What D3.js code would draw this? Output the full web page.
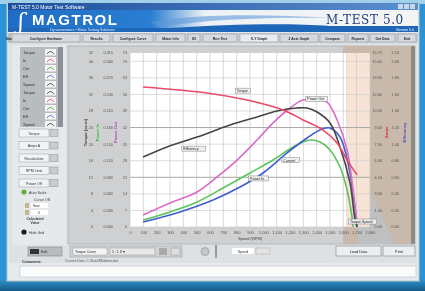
<!DOCTYPE html>
<html>
<head>
<meta charset="utf-8">
<script src="https://cdn.jsdelivr.net/npm/d3@7"></script>
<style>
  html, body { margin: 0; padding: 0; background: #2a8fd0; }
  svg { display: block; filter: blur(0.45px); font-family: "Liberation Sans", Arial, sans-serif; }
</style>
</head>
<body>
<svg width="425" height="291"></svg>
<script>
// speed axis ticks (rpm)
const speedTicks = [0, 100, 200, 300, 400, 500, 600, 700, 800, 900, 1000, 1100, 1200, 1300, 1400, 1500, 1600, 1700, 1800];
const yTicks = [0, 10, 20, 30, 40, 50, 60, 70, 80, 90, 100, 105];
const leftLabels1 = ["0", "4", "8", "12", "16", "20", "24", "28", "32", "36", "40", "42"];
const leftLabels2 = ["0.000", "0.030", "0.060", "0.090", "0.120", "0.150", "0.180", "0.210", "0.240", "0.270", "0.300", "0.315"];
const leftLabels3 = ["0", "7", "14", "21", "28", "35", "42", "49", "56", "63", "70", "74"];
const rightLabels1 = ["0.00", "1.50", "3.00", "4.50", "6.00", "7.50", "9.00", "10.50", "12.00", "13.50", "15.00", "15.75"];
const rightLabels2 = ["0.00", "0.20", "0.40", "0.60", "0.80", "1.00", "1.20", "1.40", "1.60", "1.80", "2.00", "2.10"];

// curves: [speed, value]
const torque = [[98, 84.5], [578, 80.9], [878, 76.6], [1148, 70.6], [1298, 64.6], [1448, 58.5], [1553, 50.7], [1628, 40.4], [1703, 31.4]];
const efficiency = [[98, 42.2], [278, 48.3], [503, 54.3], [750, 61.5], [953, 66.4], [1103, 70.0], [1253, 71.8], [1328, 71.8], [1403, 69.4], [1500, 62.8], [1575, 48.3], [1650, 26.6], [1688, 4.2], [1703, 0]];
const powerOut = [[98, 7.2], [300, 14.5], [503, 21.1], [653, 30.2], [803, 40.4], [953, 52.5], [1073, 62.8], [1200, 71.8], [1298, 76.6], [1403, 76.6], [1478, 75.4], [1553, 64.6], [1628, 46.5], [1673, 22.3], [1703, 2.4]];
const powerIn = [[98, 4.2], [300, 9.1], [503, 15.1], [698, 23.5], [900, 32.6], [1073, 40.4], [1223, 48.3], [1350, 52.5], [1425, 51.3], [1500, 46.5], [1575, 36.2], [1628, 22.3], [1665, 6.0], [1673, 0]];
const current = [[98, 3.0], [375, 9.1], [623, 16.3], [825, 24.1], [998, 32.6], [1178, 44.7], [1328, 53.7], [1440, 59.1], [1500, 59.7], [1575, 54.3], [1635, 38.6], [1673, 20.5], [1703, 0]];

const tabs = ["Start", "Configure Hardware", "Results", "Configure Curve", "Motor Info", "I/O", "Run Test", "X-Y Graph", "2 Axis Graph", "Compare", "Reports", "Get Data", "Exit"];
const tabEdges = [10, 12, 80, 83, 110, 113, 153, 156, 185, 188, 200, 203, 237, 240, 278, 280, 318, 320, 345, 348, 368, 370, 395, 398, 416];
const listItems = ["Torque", "In", "Out", "Eff", "Speed", "Torque", "In", "Out", "Eff", "Speed"];
const listColors = ["#333", "#e04060", "#40a040", "#4060c0", "#333", "#333", "#e04060", "#40a040", "#4060c0", "#333"];
const sideButtons = ["Torque", "Amps A", "Recalculate", "RPM Limit", "Power Off"];

const svg = d3.select("svg");
const defs = svg.append("defs");

const gTitle = defs.append("linearGradient").attr("id", "gTitle");
gTitle.append("stop").attr("offset", "0").attr("stop-color", "#1b4f9c");
gTitle.append("stop").attr("offset", "1").attr("stop-color", "#5a8fd0");
const gBanner = defs.append("linearGradient").attr("id", "gBanner");
gBanner.append("stop").attr("offset", "0").attr("stop-color", "#1f6cc4");
gBanner.append("stop").attr("offset", "0.35").attr("stop-color", "#2a7fd2");
gBanner.append("stop").attr("offset", "0.48").attr("stop-color", "#eef2f6");
gBanner.append("stop").attr("offset", "1").attr("stop-color", "#f4f4f4");
const gBottom = defs.append("linearGradient").attr("id", "gBottom").attr("x2", 0).attr("y2", 1);
gBottom.append("stop").attr("offset", "0").attr("stop-color", "#2f8fc8");
gBottom.append("stop").attr("offset", "1").attr("stop-color", "#145a88");

// outer frame
svg.append("rect").attr("width", 425).attr("height", 291).attr("fill", "#2a94d6");
svg.append("rect").attr("width", 425).attr("height", 4).attr("fill", "#9fd0ee");
svg.append("rect").attr("y", 280).attr("width", 425).attr("height", 11).attr("fill", "url(#gBottom)");
svg.append("rect").attr("x", 7).attr("y", 3).attr("width", 412).attr("height", 278).attr("fill", "#e6eaee").attr("stroke", "#b8c4ce");

// title bar
svg.append("rect").attr("x", 8).attr("y", 3).attr("width", 410).attr("height", 7).attr("fill", "url(#gTitle)");
svg.append("text").attr("x", 12).attr("y", 8.5).attr("font-size", 5).attr("fill", "#fff").text("M-TEST 5.0 Motor Test Software");
[398, 404, 410].forEach(x => svg.append("rect").attr("x", x).attr("y", 4).attr("width", 5).attr("height", 5).attr("fill", "#c9d6e6"));

// banner
svg.append("rect").attr("x", 8).attr("y", 10).attr("width", 410).attr("height", 22).attr("fill", "url(#gBanner)");
svg.append("path").attr("d", "M8,28 L170,28 C230,24 290,23 330,26 L418,26 L418,32 L8,32 Z").attr("fill", "#1e66b8");
svg.append("path").attr("d", "M150,22 C200,14 260,14 330,18 C270,17 210,19 160,27 Z").attr("fill", "#5f9ad8").attr("opacity", 0.6);
svg.append("text").attr("x", 18).attr("y", 29).attr("font-size", 22).attr("font-style", "italic").attr("fill", "#fff").attr("font-family", "DejaVu Serif").text("ʃ");
svg.append("text").attr("x", 32).attr("y", 25).attr("font-size", 15).attr("font-weight", "bold").attr("fill", "#fff").attr("letter-spacing", 1.5).text("MAGTROL");
svg.append("text").attr("x", 50).attr("y", 31).attr("font-size", 3.6).attr("fill", "#e8f0ff").text("Dynamometers • Motor Testing Solutions");
svg.append("text").attr("x", 326).attr("y", 24).attr("font-size", 12).attr("fill", "#1d3f78").attr("font-family", "DejaVu Serif").attr("letter-spacing", 0.6).text("M-TEST 5.0");
svg.append("text").attr("x", 414).attr("y", 31).attr("font-size", 3.6).attr("fill", "#fff").attr("text-anchor", "end").text("Version 5.0");

// tabs
svg.append("rect").attr("x", 8).attr("y", 33).attr("width", 410).attr("height", 10).attr("fill", "#c8ced4");
tabs.forEach((t, i) => {
  const x0 = i === 0 ? 9 : tabEdges[2 * i - 1];
  const x1 = tabEdges[2 * i];
  svg.append("rect").attr("x", x0).attr("y", 34).attr("width", x1 - x0).attr("height", 8)
    .attr("fill", i === 7 ? "#e8ecf0" : "#d6dade").attr("stroke", "#8a9098").attr("stroke-width", 0.5);
  svg.append("text").attr("x", (x0 + x1) / 2).attr("y", 39.8).attr("font-size", 3.4).attr("text-anchor", "middle")
    .attr("fill", "#223").attr("font-weight", "bold").text(t);
});

// main panel
svg.append("rect").attr("x", 9).attr("y", 43).attr("width", 408).attr("height", 220).attr("fill", "#dde1e4");
svg.append("rect").attr("x", 12).attr("y", 45).attr("width", 54).attr("height", 200).attr("fill", "#e6e9ec");

// list box
svg.append("rect").attr("x", 20).attr("y", 47).attr("width", 38).attr("height", 80).attr("fill", "#b9bcbf");
svg.append("rect").attr("x", 58).attr("y", 47).attr("width", 5).attr("height", 80).attr("fill", "#8d9195");
listItems.forEach((t, i) => {
  const y = 52 + i * 8;
  svg.append("text").attr("x", 23).attr("y", y + 1.5).attr("font-size", 4).attr("fill", "#333").text(t);
  svg.append("rect").attr("x", 45).attr("y", y - 3).attr("width", 11).attr("height", 6.5).attr("fill", "#f4f4f4");
  svg.append("path").attr("d", `M47,${y + 2} Q50.5,${y - 3} 54,${y + 2}`).attr("fill", "none").attr("stroke", listColors[i]).attr("stroke-width", 0.8);
});

// side buttons
sideButtons.forEach((t, i) => {
  const y = 129 + i * 12.5;
  svg.append("rect").attr("x", 19).attr("y", y).attr("width", 30).attr("height", 8).attr("fill", "#f2f3f4").attr("stroke", "#9aa0a6").attr("stroke-width", 0.5);
  svg.append("text").attr("x", 34).attr("y", y + 5.5).attr("font-size", 3.6).attr("text-anchor", "middle").attr("fill", "#333").text(t);
  svg.append("rect").attr("x", 50).attr("y", y + 0.5).attr("width", 8).attr("height", 7).attr("fill", "#c9cdd1").attr("stroke", "#8a9096").attr("stroke-width", 0.5);
});
svg.append("circle").attr("cx", 24).attr("cy", 192).attr("r", 2.6).attr("fill", "#62b040");
svg.append("text").attr("x", 29).attr("y", 193.5).attr("font-size", 3.6).attr("fill", "#333").text("Auto Scale");
svg.append("text").attr("x", 34).attr("y", 201).attr("font-size", 3.4).attr("fill", "#444").text("Cursor ON");
svg.append("rect").attr("x", 25).attr("y", 203).attr("width", 4).attr("height", 5).attr("fill", "#c2b48e");
svg.append("rect").attr("x", 31).attr("y", 203).attr("width", 17).attr("height", 5).attr("fill", "#fff");
svg.append("text").attr("x", 33).attr("y", 207).attr("font-size", 3.4).attr("fill", "#333").text("Now");
svg.append("rect").attr("x", 25).attr("y", 210).attr("width", 4).attr("height", 5).attr("fill", "#c2b48e");
svg.append("rect").attr("x", 31).attr("y", 210).attr("width", 17).attr("height", 5).attr("fill", "#fff");
svg.append("text").attr("x", 38).attr("y", 214).attr("font-size", 3.4).attr("fill", "#333").text("0");
svg.append("text").attr("x", 35).attr("y", 220).attr("font-size", 3.4).attr("text-anchor", "middle").attr("font-weight", "bold").attr("fill", "#333").text("Calculated");
svg.append("text").attr("x", 35).attr("y", 224).attr("font-size", 3.4).attr("text-anchor", "middle").attr("font-weight", "bold").attr("fill", "#333").text("Value");
svg.append("circle").attr("cx", 24).attr("cy", 232).attr("r", 2.6).attr("fill", "#1a1a1a");
svg.append("text").attr("x", 29).attr("y", 233.5).attr("font-size", 3.6).attr("fill", "#333").text("Hide Grid");

// plot frame
svg.append("rect").attr("x", 68).attr("y", 46).attr("width", 347).attr("height", 198).attr("fill", "#cfd0d1").attr("stroke", "#9ea2a6").attr("stroke-width", 0.6);
svg.append("rect").attr("x", 343).attr("y", 46).attr("width", 70).attr("height", 198).attr("fill", "#c8b9aa");
svg.append("path").attr("d", "M358,165 L395,244 L358,244 Z").attr("fill", "#bfc0c2");
svg.append("rect").attr("x", 411).attr("y", 46).attr("width", 4).attr("height", 198).attr("fill", "#8e8a86");

const x = d3.scaleLinear().domain([0, 1800]).range([130, 370]);
const y = d3.scaleLinear().domain([0, 105]).range([227, 53]);

svg.append("rect").attr("x", x(0)).attr("y", y(105)).attr("width", x(1600) - x(0) + 3).attr("height", y(0) - y(105)).attr("fill", "#fff");
svg.append("rect").attr("x", x(1600) + 3).attr("y", y(105)).attr("width", x(1800) - x(1600) - 3).attr("height", y(0) - y(105)).attr("fill", "#f7e4d6");

// grid
const grid = svg.append("g");
grid.selectAll("line.v").data(speedTicks).join("line")
  .attr("x1", d => x(d)).attr("x2", d => x(d)).attr("y1", y(105)).attr("y2", y(0))
  .attr("stroke", "#c9c9c9").attr("stroke-width", 0.7);
grid.selectAll("line.h").data(yTicks.slice(0, 11)).join("line")
  .attr("x1", x(0)).attr("x2", x(1800)).attr("y1", d => y(d)).attr("y2", d => y(d))
  .attr("stroke", d => (d === 30 || d === 60) ? "#a6a6a6" : "#cdcdcd").attr("stroke-width", d => (d === 30 || d === 60) ? 1 : 0.7);

// x axis
const xAxis = svg.append("g").attr("transform", `translate(0,${y(0) + 1})`)
  .call(d3.axisBottom(x).tickValues(speedTicks).tickSize(0).tickPadding(3));
xAxis.select(".domain").remove();
xAxis.selectAll("text").attr("font-size", 4).attr("fill", "#555").attr("font-family", "Liberation Sans");
svg.append("text").attr("x", x(900)).attr("y", 240).attr("font-size", 4).attr("fill", "#444").attr("text-anchor", "middle").text("Speed (RPM)");

// left axes
function sideAxis(xPos, labels, anchor) {
  const g = svg.append("g");
  g.selectAll("text").data(yTicks).join("text")
    .attr("x", xPos).attr("y", d => y(d) + 1.4).attr("font-size", 3.8).attr("fill", "#555").attr("text-anchor", anchor)
    .text((d, i) => labels[i]);
}
sideAxis(93, leftLabels1, "end");
sideAxis(113, leftLabels2, "end");
sideAxis(127, leftLabels3, "end");
sideAxis(382, rightLabels1, "end");
sideAxis(399, rightLabels2, "end");

function vLabel(xPos, text, color) {
  svg.append("text").attr("transform", `translate(${xPos},${y(57)}) rotate(-90)`).attr("font-size", 4.2)
    .attr("text-anchor", "middle").attr("fill", color).attr("font-weight", "bold").text(text);
}
vLabel(87, "Torque (oz.in)", "#333");
vLabel(99, "Power In", "#3cb43c");
vLabel(117, "Power Out", "#b040c0");
vLabel(388, "Amps", "#e03040");
vLabel(406, "Efficiency", "#4050c0");

// curves
const line = d3.line().curve(d3.curveCatmullRom).x(d => x(d[0])).y(d => y(d[1]));
const series = [
  [powerIn, "#5cc45c"],
  [current, "#3f5fd0"],
  [powerOut, "#d86cc8"],
  [efficiency, "#454545"],
  [torque, "#ec4a66"]
];
series.forEach(([data, color]) => {
  svg.append("path").attr("d", line(data)).attr("fill", "none").attr("stroke", color).attr("stroke-width", 1.6);
});

// curve tags
const tags = [
  [800, 82, "Torque"],
  [400, 47, "Efficiency"],
  [1330, 77, "Power Out"],
  [1150, 40, "Current"],
  [900, 29, "Power In"],
  [1650, 3, "Torque Speed"]
];
tags.forEach(([sx, v, t]) => {
  const w = t.length * 2.1 + 3;
  svg.append("rect").attr("x", x(sx) - 1.5).attr("y", y(v) - 3).attr("width", w).attr("height", 5).attr("fill", "#f0f0f0").attr("stroke", "#666").attr("stroke-width", 0.4);
  svg.append("text").attr("x", x(sx)).attr("y", y(v) + 1).attr("font-size", 3.6).attr("fill", "#222").text(t);
});

// bottom controls
svg.append("rect").attr("x", 28).attr("y", 247).attr("width", 34).attr("height", 9).attr("fill", "#b8bcc0").attr("stroke", "#777").attr("stroke-width", 0.5);
svg.append("rect").attr("x", 30).attr("y", 249).attr("width", 9).attr("height", 5).attr("fill", "#333");
svg.append("text").attr("x", 41).attr("y", 253).attr("font-size", 3.6).attr("fill", "#333").text("Edit");
svg.append("rect").attr("x", 70).attr("y", 246).attr("width", 112).attr("height", 11).attr("fill", "#cfd3d6").attr("stroke", "#999").attr("stroke-width", 0.5);
svg.append("rect").attr("x", 73).attr("y", 248).attr("width", 34).attr("height", 7).attr("fill", "#f4f4f4").attr("stroke", "#888").attr("stroke-width", 0.4);
svg.append("text").attr("x", 75).attr("y", 252.8).attr("font-size", 3.5).attr("fill", "#222").text("Torque Curve");
svg.append("rect").attr("x", 110).attr("y", 248).attr("width", 45).attr("height", 7).attr("fill", "#e8e8e8").attr("stroke", "#888").attr("stroke-width", 0.4);
svg.append("text").attr("x", 112).attr("y", 252.8).attr("font-size", 3.5).attr("fill", "#222").text("1 : 1    X   ▾");
svg.append("rect").attr("x", 159).attr("y", 248).attr("width", 8).attr("height", 7).attr("fill", "#aaa");
svg.append("rect").attr("x", 171).attr("y", 248).attr("width", 9).attr("height", 7).attr("fill", "#ddd").attr("stroke", "#888").attr("stroke-width", 0.4);
svg.append("circle").attr("cx", 205).attr("cy", 251.5).attr("r", 4).attr("fill", "#c8c8c8").attr("stroke", "#888").attr("stroke-width", 0.6);
svg.append("rect").attr("x", 215).attr("y", 245).attr("width", 2).attr("height", 13).attr("fill", "#999");
svg.append("rect").attr("x", 232).attr("y", 248).attr("width", 22).attr("height", 6).attr("fill", "#fff");
svg.append("text").attr("x", 243).attr("y", 252.5).attr("font-size", 3.6).attr("text-anchor", "middle").attr("fill", "#333").text("Speed");
svg.append("rect").attr("x", 256).attr("y", 248).attr("width", 14).attr("height", 6).attr("fill", "#e4e4e4").attr("stroke", "#999").attr("stroke-width", 0.4);
[["Load Data", 336, 45], ["Print", 383, 32]].forEach(([t, bx, bw]) => {
  svg.append("rect").attr("x", bx).attr("y", 246).attr("width", bw).attr("height", 10).attr("fill", "#eceef0").attr("stroke", "#7d848a").attr("stroke-width", 0.6);
  svg.append("text").attr("x", bx + bw / 2).attr("y", 252.5).attr("font-size", 3.8).attr("text-anchor", "middle").attr("fill", "#222").text(t);
});
svg.append("text").attr("x", 22).attr("y", 263).attr("font-size", 3.6).attr("font-weight", "bold").attr("fill", "#333").text("Comments:");
svg.append("text").attr("x", 65).attr("y", 262).attr("font-size", 3.4).attr("fill", "#555").text("Current Data:   C:\\Data\\M5demo.dat");
svg.append("rect").attr("x", 20).attr("y", 266).attr("width", 396).attr("height", 11).attr("fill", "#fbfbfb").attr("stroke", "#b0b6bc").attr("stroke-width", 0.5);
</script>
</body>
</html>
